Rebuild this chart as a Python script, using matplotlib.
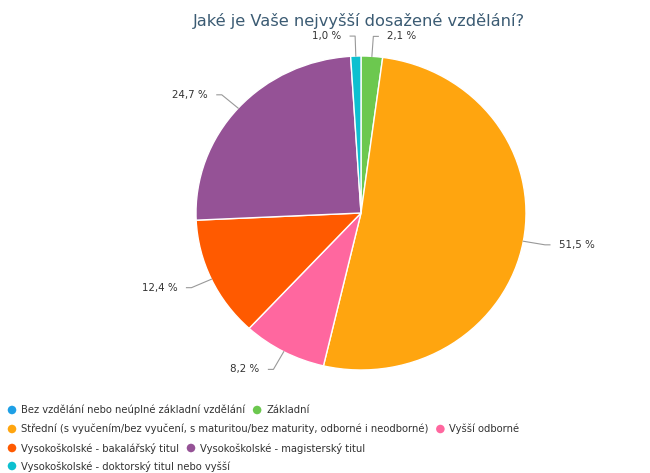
import numpy as np
import matplotlib.pyplot as plt

# Survey answers and their shares (%)
categories = [
    "Bez vzdělání nebo neúplné základní vzdělání",
    "Základní",
    "Střední (s vyučením/bez vyučení, s maturitou/bez maturity, odborné i neodborné)",
    "Vyšší odborné",
    "Vysokoškolské - bakalářský titul",
    "Vysokoškolské - magisterský titul",
    "Vysokoškolské - doktorský titul nebo vyšší",
]
shares = [0.0, 2.1, 51.5, 8.2, 12.4, 24.7, 1.0]
colors = ["#1ea0e6", "#6cc84f", "#ffa50f", "#ff679f", "#ff5a00", "#955296", "#0dc0d0"]
legend_rows = [[0, 1], [2, 3], [4, 5], [6]]

W, H = 650, 473
cx, cy, rx, ry = 361, 213, 165, 157

fig = plt.figure(figsize=(W / 100, H / 100), dpi=100)

# pie axes: slightly wider than tall, so the pie is a touch elliptical
pie_ax = fig.add_axes([(cx - rx) / W, (H - cy - ry) / H, 2 * rx / W, 2 * ry / H])
pie_ax.pie(shares, colors=colors, startangle=90, counterclock=False, radius=1,
           wedgeprops=dict(edgecolor="white", linewidth=1))
pie_ax.set_aspect("auto")
pie_ax.set_xlim(-1, 1)
pie_ax.set_ylim(-1, 1)
pie_ax.axis("off")

# overlay in pixel coordinates for labels, connectors and legend
ov = fig.add_axes([0, 0, 1, 1])
ov.set_xlim(0, W)
ov.set_ylim(H, 0)
ov.axis("off")

ov.text(359, 21, "Jaké je Vaše nejvyšší dosažené vzdělání?", ha="center", va="center",
        fontsize=11.7, color="#3b5b73")

total = sum(shares)
cum = 0.0
for val in shares:
    mid = (cum + val / 2) / total * 2 * np.pi
    cum += val
    if val <= 0:
        continue
    dx, dy = np.sin(mid), -np.cos(mid)
    ex, ey = cx + rx * dx, cy + ry * dy
    bx, by = cx + (rx + 22) * dx, cy + (ry + 20) * dy
    side = 1 if dx >= 0 else -1
    tx = bx + side * 5
    ov.plot([ex, bx, tx], [ey, by, by], color="#999999", lw=0.8)
    ov.text(tx + side * 9, by, f"{val:.1f} %".replace(".", ","),
            ha="left" if side > 0 else "right", va="center",
            fontsize=7.4, color="#333333")

# legend laid out in rows, items flowing left to right
fig.canvas.draw()
renderer = fig.canvas.get_renderer()
row_y = [410, 429, 448, 466]
for y, row in zip(row_y, legend_rows):
    x = 12
    for i in row:
        ov.scatter([x], [y], s=38, color=colors[i], edgecolors="none")
        t = ov.text(x + 9, y, categories[i], ha="left", va="center",
                    fontsize=7.2, color="#333333")
        bb = t.get_window_extent(renderer)
        x = x + 9 + bb.width + 12

fig.savefig("out.png", dpi=100)
